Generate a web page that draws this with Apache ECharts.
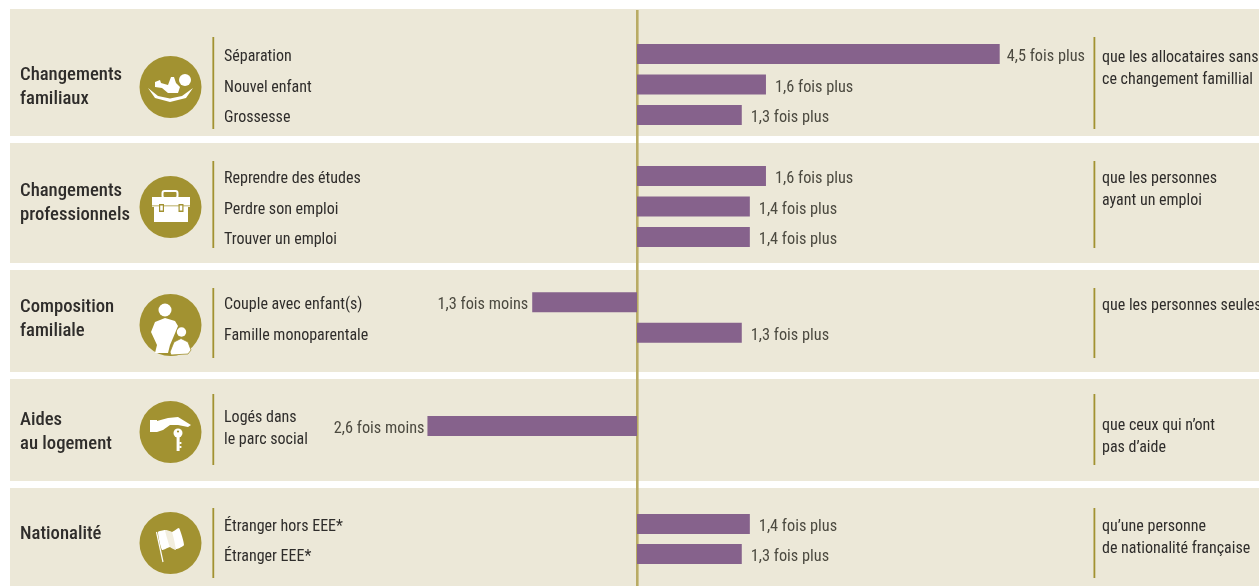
<!DOCTYPE html>
<html><head><meta charset="utf-8">
<style>html,body{margin:0;padding:0;background:#fff}#c{width:1259px;height:586px}</style>
<script src="https://cdn.jsdelivr.net/npm/echarts@6/dist/echarts.min.js"></script>
</head><body><div id="c"></div>
<script>
// ----- data -----
const groupTitles = ['Changements\nfamiliaux','Changements\nprofessionnels','Composition\nfamiliale','Aides\nau logement','Nationalité'];
const comparisons = ['que les allocataires sans\nce changement famillial','que les personnes\nayant un emploi','que les personnes seules','que ceux qui n\u2019ont\npas d\u2019aide','qu\u2019une personne\nde nationalité française'];
const famCats = ['Séparation','Nouvel enfant','Grossesse'];
const famVals = [4.5,1.6,1.3];
const proCats = ['Reprendre des études','Perdre son emploi','Trouver un emploi'];
const proVals = [1.6,1.4,1.4];
const compCats = ['Couple avec enfant(s)','Famille monoparentale'];
const compVals = [-1.3,1.3];
const aideCats = ['Logés dans\nle parc social'];
const aideVals = [-2.6];
const natCats = ['Étranger hors EEE*','Étranger EEE*'];
const natVals = [1.4,1.3];

// ----- layout -----
const FONT = '"Roboto Condensed","Liberation Sans",sans-serif';
const BEIGE='#ece8d8', GOLD='#a29231', BAR='#86628c', INK='#2f2d2b', VAL='#4c4a40';
const X0=637, PXU=80.6, GL=224, GR=1094, LABEL_DY=3;
const panels=[[9,136],[143,263],[270,372],[379,481],[488,586]];
const gridTops=[[38.75,91.5],[160.75,91.5],[287,61],[411,30],[509,60]];
const lineSpans=[[37,129],[161,248],[288,358],[394,465],[508,578]];
const circleY=[87,207,325,432,543];
const titleY=[87,203,319,432,534];
const compY=[69,190,306,437,538];
const allCats=[famCats,proCats,compCats,aideCats,natCats];
const allVals=[famVals,proVals,compVals,aideVals,natVals];
const fmt=v=>Math.abs(v).toFixed(1).replace('.',',')+(v<0?' fois moins':' fois plus');

const grids=[],xAxes=[],yAxes=[],series=[];
const xScale=i=>({gridIndex:i,type:'value',show:false,min:(GL-X0)/PXU,max:(GR-X0)/PXU,splitLine:{show:false}});
allCats.forEach((cats,i)=>{
  grids.push({left:GL,width:GR-GL,top:gridTops[i][0],height:gridTops[i][1],containLabel:false});
  xAxes.push(xScale(i));
  yAxes.push({gridIndex:i,type:'category',inverse:true,data:cats,
    axisLine:{show:false,onZero:false},axisTick:{show:false},splitLine:{show:false},axisLabel:{show:false}});
  series.push({type:'bar',xAxisIndex:i,yAxisIndex:i,barWidth:20,z:5,silent:true,animation:false,
    itemStyle:{color:BAR},
    data:allVals[i].map(v=>({value:v,label:{show:true,position:v<0?'left':'right',distance:v<0?(v<-2?3:4):(v>4?7:9),offset:[0,3],
      formatter:fmt(v),color:VAL,fontFamily:FONT,fontSize:16.3}}))});
});
// twin grids holding only the category labels, set slightly below the bars
allCats.forEach((cats,i)=>{
  const k=allCats.length+i;
  grids.push({left:GL,width:GR-GL,top:gridTops[i][0]+LABEL_DY,height:gridTops[i][1],containLabel:false});
  xAxes.push(xScale(k));
  yAxes.push({gridIndex:k,type:'category',inverse:true,data:cats,
    axisLine:{show:false,onZero:false},axisTick:{show:false},splitLine:{show:false},
    axisLabel:{inside:true,margin:0,interval:0,hideOverlap:false,align:'left',color:INK,fontFamily:FONT,fontSize:16,lineHeight:22}});
});

// ----- decoration -----
const W='#fff';
const g=[];
panels.forEach(p=>g.push({type:'rect',z:-10,shape:{x:10,y:p[0],width:1249,height:p[1]-p[0]},style:{fill:BEIGE},silent:true}));
g.push({type:'rect',z:1,shape:{x:636,y:10,width:2.6,height:576},style:{fill:'#b9ab64'},silent:true});
lineSpans.forEach(s=>{
  g.push({type:'rect',z:1,shape:{x:212.4,y:s[0],width:1.8,height:s[1]-s[0]},style:{fill:GOLD},silent:true});
  g.push({type:'rect',z:1,shape:{x:1093.5,y:s[0],width:1.8,height:s[1]-s[0]},style:{fill:GOLD},silent:true});
});
circleY.forEach(y=>g.push({type:'circle',z:1,shape:{cx:170.5,cy:y,r:31},style:{fill:GOLD},silent:true}));
groupTitles.forEach((t,i)=>g.push({type:'text',z:2,x:20,y:titleY[i],style:{text:t,fill:INK,fontFamily:FONT,fontSize:18.7,fontWeight:500,lineHeight:24,verticalAlign:'middle',align:'left'},silent:true}));
comparisons.forEach((t,i)=>g.push({type:'text',z:2,x:1102,y:compY[i],style:{text:t,fill:INK,fontFamily:FONT,fontSize:16,lineHeight:22,verticalAlign:'middle',align:'left'},silent:true}));

const poly=(pts,smooth,fill)=>({type:'polygon',z:3,silent:true,shape:{points:pts,smooth:smooth||0},style:{fill:fill||W}});
const circ=(cx,cy,r,fill,stroke)=>({type:'circle',z:3,silent:true,shape:{cx,cy,r},style:{fill:fill||W,stroke:stroke||null,lineWidth:stroke?1:0}});
const rect=(x,y,w,h,fill,z)=>({type:'rect',z:z||3,silent:true,shape:{x,y,width:w,height:h},style:{fill:fill||W}});
// baby
g.push(circ(185,80,6));
g.push(poly([[155,82],[160,80],[161,83],[168,85],[171,77],[174,77],[176,83],[180,87],[178,93],[168,93],[162,88],[155,87]],0));
g.push(poly([[148,88],[158,96],[170,98.5],[182,96],[193,88],[186,98],[170,102],[155,98]],0));
// briefcase
g.push(rect(152,197,38,10));
g.push(rect(154,207,34,15));
g.push({type:'rect',z:3,silent:true,shape:{x:162.5,y:191,width:15,height:7,r:2},style:{fill:null,stroke:W,lineWidth:2}});
g.push(rect(152,205.5,38,0.8,GOLD,4));
[159,178.5].forEach(x=>{g.push(rect(x,204,5,8,GOLD,4));g.push(rect(x+1.2,205.5,2.6,5,W,5));});
// parent and child
g.push(circ(165,310,6.5));
g.push(poly([[165,318],[155,322],[151,332],[157,345],[155,353],[168,353],[170,345],[173,338],[178,326],[175,321]],0));
g.push(circ(181.5,332,4.7));
g.push({type:'polygon',z:3,silent:true,shape:{points:[[174,342],[181,338.5],[188,342],[191,350],[188,354],[171,355],[170,352]]},style:{fill:W,stroke:GOLD,lineWidth:0.8}});
// hand and key
g.push(rect(150,420,7,12));
g.push(poly([[157,421],[168,418],[178,417],[191,425],[188,427],[178,425],[170,425],[163,430],[157,432]],0));
g.push(circ(178,433,4.5));
g.push(circ(178,431.5,1.1,GOLD));
g.push(rect(176.6,436,3,15));
g.push(rect(179.4,442,2,2));g.push(rect(179.4,446,2,2));
// flag
g.push({type:'line',z:3,silent:true,shape:{x1:156.5,y1:532,x2:163,y2:562},style:{stroke:W,lineWidth:1.2}});
g.push(poly([[158,532],[165,530],[172,532],[179,528],[184,545],[177,549],[170,547],[162,550]],0.15));
g.push(poly([[165,530],[172,532],[176,550],[170,547]],0.1,'#f2eedf'));

const chart=echarts.init(document.getElementById('c'),null,{renderer:'canvas'});
chart.setOption({animation:false,backgroundColor:'#fff',grid:grids,xAxis:xAxes,yAxis:yAxes,series:series,graphic:{elements:g},tooltip:{show:false}});
</script></body></html>
